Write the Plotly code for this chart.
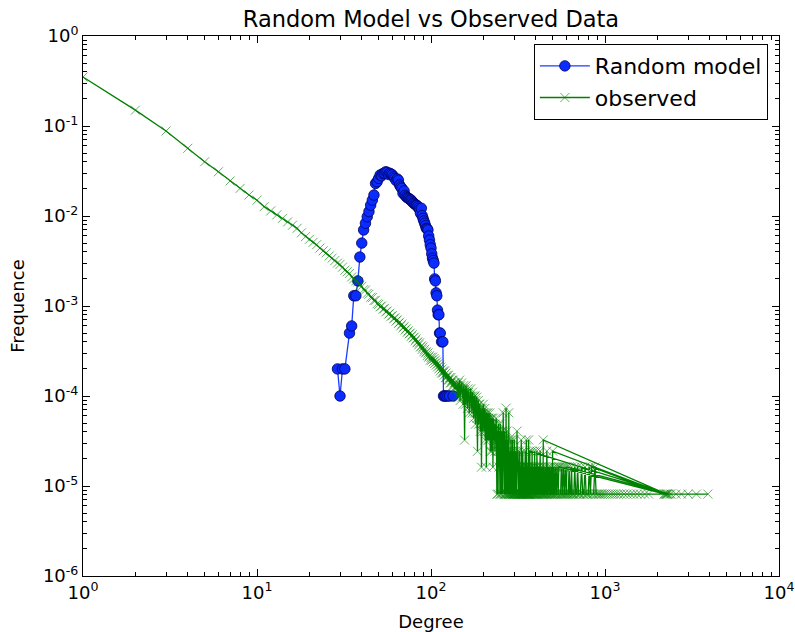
import plotly.graph_objects as go

# ---------------- data ----------------
# Random model (blue)
random_degree = [29, 30, 31, 32, 34, 35, 36, 37, 38, 39, 40, 41, 42, 43, 44, 45, 46, 47, 48, 49,
                 50, 51, 52, 53, 54, 55, 56, 57, 58, 59, 60, 61, 62, 63, 64, 65, 66, 67, 68, 69,
                 70, 71, 72, 73, 74, 75, 76, 77, 78, 79, 80, 81, 82, 83, 84, 85, 86, 87, 88, 89,
                 90, 91, 92, 93, 94, 95, 96, 97, 98, 99, 100, 101, 102, 103, 104, 105, 106, 107, 108, 109,
                 110, 111, 112, 113, 115, 117, 118, 120, 122, 125, 128, 134]
random_freq = [0.0002, 0.0001, 0.0002, 0.0002, 0.0005, 0.0006, 0.0013, 0.0013, 0.0019, 0.0035,
               0.0050, 0.0070, 0.0083, 0.0098, 0.0112, 0.0132, 0.0150, 0.0171, 0.0230, 0.0240,
               0.0262, 0.0286, 0.0280, 0.0297, 0.0300, 0.0310, 0.0305, 0.0290, 0.0298, 0.0292,
               0.0286, 0.0272, 0.0262, 0.0248, 0.0258, 0.0250, 0.0221, 0.0210, 0.0203, 0.0179,
               0.0190, 0.0170, 0.0164, 0.0160, 0.0158, 0.0155, 0.0151, 0.0150, 0.0145, 0.0140,
               0.0138, 0.0135, 0.0132, 0.0131, 0.0127, 0.0122, 0.0118, 0.0107, 0.0122, 0.0101,
               0.0094, 0.0088, 0.0083, 0.0078, 0.0073, 0.0072, 0.0070, 0.0060, 0.0054, 0.0048,
               0.0044, 0.0038, 0.0034, 0.0032, 0.0030, 0.0020, 0.0019, 0.0014, 0.0013, 0.0009,
               0.0008, 0.0008, 0.0005, 0.0005, 0.0004, 0.0004, 0.0001, 0.0001, 0.0001, 0.0001,
               0.0001, 0.0001]

# Observed (green) -- head: degrees 1..240 with their frequencies
observed_head_degree = list(range(1, 241))
observed_head_freq = [
    0.35, 0.15, 0.088, 0.0565, 0.040, 0.031, 0.0245, 0.0203, 0.0171, 0.0150,
    0.0127, 0.0114, 0.0103, 0.0094, 0.0086, 0.0079, 0.0073, 0.0065, 0.0059, 0.0055,
    0.0051, 0.0048, 0.0044, 0.0041, 0.0039, 0.0036, 0.0034, 0.0032, 0.0030, 0.0029,
    0.0027, 0.0025, 0.0024, 0.0023, 0.0021, 0.0020, 0.0019, 0.00185, 0.0017, 0.00165,
    0.00152, 0.0015, 0.00138, 0.00135, 0.00125, 0.00124, 0.00115, 0.00116, 0.00106, 0.00104,
    0.00098, 0.0010, 0.00092, 0.00094, 0.00086, 0.00088, 0.00081, 0.00083, 0.00077, 0.00078,
    0.00072, 0.00074, 0.00068, 0.00070, 0.00064, 0.00066, 0.00060, 0.00063, 0.00057, 0.00059,
    0.00054, 0.00056, 0.00051, 0.00053, 0.00049, 0.00050, 0.00046, 0.00048, 0.00044, 0.00045,
    0.00041, 0.00043, 0.00039, 0.00040, 0.00037, 0.00039, 0.00035, 0.00036, 0.00033, 0.00035,
    0.00031, 0.00033, 0.00030, 0.00031, 0.00028, 0.00030, 0.00027, 0.00028, 0.00025, 0.00027,
    0.00025, 0.00027, 0.00024, 0.00026, 0.00023, 0.00025, 0.00022, 0.00024, 0.00021, 0.00023,
    0.00020, 0.00022, 0.00019, 0.00021, 0.00018, 0.00020, 0.00018, 0.00019, 0.00017, 0.00019,
    0.00016, 0.00018, 0.00016, 0.00017, 0.00015, 0.00017, 0.00015, 0.00016, 0.00014, 0.00016,
    0.00014, 0.00015, 0.00013, 0.00015, 0.00013, 0.00014, 0.00012, 0.00014, 0.00012, 0.00013,
    0.00013, 0.00010, 0.00014, 0.000097, 0.00012, 0.00015, 0.000089, 0.00013, 0.00011, 0.00014,
    0.000097, 0.00012, 0.000081, 0.00013, 0.00010, 0.0000324, 0.00012, 0.000081, 0.00013, 0.0000891,
    0.00011, 0.0000729, 0.00012, 0.0000891, 0.00011, 0.0000648, 0.00010, 0.0000891, 0.00012, 0.0000729,
    0.00010, 0.0000648, 0.00011, 0.0000729, 0.00010, 0.0000567, 0.0000972, 0.0000648, 0.00010, 0.0000486,
    0.0000891, 0.0000648, 0.0000972, 0.0000567, 0.0000243, 0.0000648, 0.0000891, 0.0000486, 0.000081, 0.0000567,
    0.000081, 0.0000405, 0.0000729, 0.0000567, 0.0000162, 0.0000486, 0.0000729, 0.0000648, 0.0000405, 0.000081,
    0.0000486, 0.0000648, 0.0000405, 0.0000729, 0.0000324, 0.0000648, 0.0000567, 0.0000162, 0.0000648, 0.0000405,
    0.0000567, 0.0000324, 0.0000648, 0.0000405, 0.0000567, 0.0000324, 0.0000486, 0.0000648, 0.0000243, 0.0000567,
    0.0000405, 0.0000486, 0.0000243, 0.0000567, 0.0000405, 0.0000486, 0.0000162, 0.0000567, 0.0000405, 0.0000324,
    0.0000486, 0.0000405, 0.0000243, 0.0000486, 0.0000324, 0.0000405, 0.0000567, 0.0000324, 0.0000081, 0.0000405,
]

# Observed (green) -- tail: node counts per degree, in stored order, out of observed_nodes
observed_nodes = 123000
observed_tail_degree = [
    241, 242, 243, 244, 245, 246, 247, 248, 249, 250,
    251, 252, 253, 254, 255, 256, 257, 258, 259, 260,
    261, 262, 263, 264, 265, 266, 267, 268, 269, 270,
    271, 272, 273, 274, 275, 276, 277, 278, 279, 280,
    281, 282, 283, 284, 285, 286, 287, 288, 289, 290,
    291, 292, 293, 294, 295, 296, 297, 298, 299, 300,
    301, 302, 303, 304, 305, 306, 307, 308, 309, 310,
    311, 312, 313, 314, 315, 316, 317, 318, 319, 320,
    321, 322, 323, 324, 325, 326, 327, 328, 329, 330,
    331, 332, 333, 334, 335, 336, 337, 338, 339, 340,
    341, 342, 343, 344, 345, 346, 347, 348, 349, 350,
    351, 352, 353, 354, 355, 356, 357, 358, 359, 360,
    361, 362, 363, 364, 365, 366, 367, 368, 369, 370,
    2300, 372, 373, 375, 376, 378, 379, 381, 383, 384,
    386, 388, 390, 391, 393, 394, 396, 398, 400, 402,
    403, 405, 406, 408, 410, 412, 415, 417, 419, 421,
    424, 426, 428, 431, 434, 436, 438, 440, 442, 2260,
    444, 446, 449, 452, 455, 457, 460, 463, 466, 468,
    472, 475, 478, 481, 485, 488, 491, 494, 497, 500,
    2240, 504, 507, 511, 514, 518, 521, 525, 530, 534,
    538, 543, 548, 2210, 552, 556, 561, 566, 570, 575,
    580, 585, 590, 596, 600, 604, 2350, 610, 615, 622,
    628, 635, 642, 648, 655, 662, 670, 679, 688, 696,
    705, 714, 722, 733, 745, 756, 768, 779, 790, 801,
    812, 824, 836, 2180, 848, 860, 875, 890, 908, 925,
    942, 960, 985, 1010, 1045, 1080, 1115, 1150, 1190, 1230,
    1285, 1340, 1400, 1460, 1530, 1600, 1690, 1780, 2270, 2400,
    2560, 2750, 3000, 3350, 3900,
]
observed_tail_count = [
    5, 3, 1, 6, 4, 2, 5, 3, 1, 6,
    4, 3, 1, 5, 2, 4, 1, 5, 3, 8,
    2, 4, 1, 5, 3, 1, 4, 2, 1, 9,
    1, 3, 5, 1, 2, 4, 1, 3, 1, 8,
    1, 4, 2, 1, 3, 1, 1, 4, 2, 1,
    2, 3, 1, 4, 1, 1, 2, 3, 1, 1,
    4, 1, 2, 1, 1, 3, 1, 2, 2, 1,
    1, 5, 1, 2, 3, 1, 1, 2, 1, 1,
    2, 3, 1, 1, 2, 1, 1, 2, 1, 4,
    1, 2, 1, 2, 1, 1, 3, 1, 1, 1,
    2, 1, 2, 1, 1, 1, 2, 3, 1, 1,
    1, 2, 4, 1, 1, 2, 2, 1, 1, 1,
    1, 2, 1, 4, 1, 1, 2, 1, 1, 3,
    1, 1, 2, 1, 2, 1, 1, 3, 1, 2,
    1, 1, 2, 1, 1, 3, 1, 2, 1, 1,
    2, 1, 3, 1, 1, 2, 1, 2, 1, 1,
    3, 1, 2, 1, 1, 2, 1, 1, 4, 1,
    1, 2, 1, 1, 2, 1, 1, 3, 1, 1,
    2, 1, 1, 2, 1, 1, 2, 1, 1, 3,
    1, 1, 2, 1, 1, 2, 1, 1, 2, 1,
    1, 2, 2, 1, 1, 1, 2, 1, 1, 2,
    1, 1, 2, 1, 1, 2, 1, 1, 1, 2,
    1, 1, 2, 1, 1, 1, 2, 1, 1, 2,
    1, 1, 1, 2, 1, 1, 2, 1, 1, 1,
    2, 1, 2, 1, 1, 1, 2, 1, 1, 1,
    1, 1, 1, 1, 1, 1, 1, 1, 1, 1,
    1, 1, 1, 1, 1, 1, 1, 1, 1, 1,
    1, 1, 1, 1, 1,
]

x_tickvals = [1, 10, 100, 1000, 10000]
x_ticktext = ["10<sup>0</sup>", "10<sup>1</sup>", "10<sup>2</sup>", "10<sup>3</sup>", "10<sup>4</sup>"]
y_tickvals = [1e-6, 1e-5, 1e-4, 1e-3, 1e-2, 1e-1, 1]
y_ticktext = ["10<sup>-6</sup>", "10<sup>-5</sup>", "10<sup>-4</sup>", "10<sup>-3</sup>",
              "10<sup>-2</sup>", "10<sup>-1</sup>", "10<sup>0</sup>"]

assert len(random_degree) == len(random_freq)
assert len(observed_head_degree) == len(observed_head_freq)
assert len(observed_tail_degree) == len(observed_tail_count)

observed_degree = observed_head_degree + observed_tail_degree
observed_freq = observed_head_freq + [c / observed_nodes for c in observed_tail_count]

# ---------------- figure ----------------
FONT = "DejaVu Sans"
fig = go.Figure()
fig.add_trace(go.Scatter(
    x=random_degree, y=random_freq, mode="lines+markers", name="Random model",
    line=dict(color="#1a3cff", width=1.3),
    marker=dict(symbol="circle", size=10.5, color="#0a2cff", line=dict(color="#000060", width=0.8)),
))
fig.add_trace(go.Scatter(
    x=observed_degree, y=observed_freq, mode="lines+markers", name="observed",
    line=dict(color="#008000", width=1.3),
    marker=dict(symbol="x-thin", size=9, color="rgba(0,128,0,0.6)",
                line=dict(color="rgba(0,128,0,0.6)", width=1)),
))

minor_x = [m * 10 ** e for e in range(4) for m in range(2, 10)]
minor_y = [m * 10.0 ** e for e in range(-6, 0) for m in range(2, 10)]

axis_common = dict(
    type="log", showgrid=False, zeroline=False, showline=True, linecolor="black", linewidth=1,
    mirror="ticks", ticks="inside", ticklen=7, tickcolor="black", tickwidth=1,
    tickfont=dict(family=FONT, size=18, color="black"), tickmode="array",
    ticklabeloverflow="allow",
)
fig.update_xaxes(
    **axis_common, range=[0, 4], tickvals=x_tickvals, ticktext=x_ticktext,
    minor=dict(ticks="inside", ticklen=4, tickcolor="black", tickvals=minor_x, showgrid=False),
    title=dict(text="Degree", font=dict(family=FONT, size=18, color="black"), standoff=13),
    automargin=False,
)
fig.update_yaxes(
    **axis_common, range=[-6, 0], tickvals=y_tickvals, ticktext=y_ticktext,
    minor=dict(ticks="inside", ticklen=4, tickcolor="black", tickvals=minor_y, showgrid=False),
    title=dict(text="Frequence", font=dict(family=FONT, size=18, color="black"), standoff=13),
    automargin=False,
)
fig.update_layout(
    width=795, height=632,
    margin=dict(l=83, r=16, t=36, b=56),
    paper_bgcolor="white", plot_bgcolor="white",
    font=dict(family=FONT, color="black"),
    title=dict(text="Random Model vs Observed Data", x=0.5, xref="paper", xanchor="center",
               y=1 - 19 / 632, yref="container", yanchor="middle",
               font=dict(family=FONT, size=22.5, color="black")),
    legend=dict(x=0.984, y=0.985, xanchor="right", yanchor="top", bgcolor="white",
                bordercolor="black", borderwidth=1, font=dict(family=FONT, size=22, color="black"),
                itemwidth=50, tracegroupgap=0),
    showlegend=True,
)
fig.write_html("out.html")
